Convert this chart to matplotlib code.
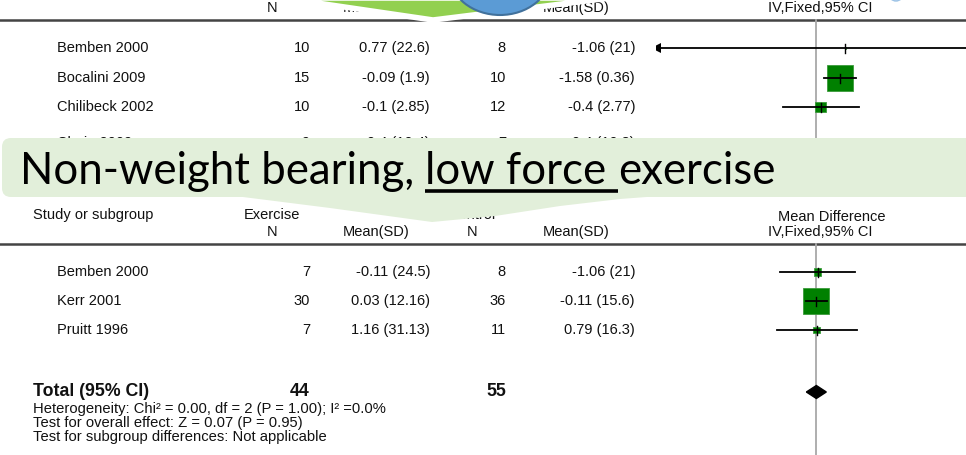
import numpy as np
import matplotlib.pyplot as plt
from matplotlib.patches import Polygon, Ellipse, FancyBboxPatch, Rectangle

# High force subgroup (upper table, partly covered)
hi_study = ["Bemben 2000", "Bocalini 2009", "Chilibeck 2002", "Chuin 2009"]
hi_exp_n = [10, 15, 10, 9]
hi_exp_mean = [0.77, -0.09, -0.1, -0.4]
hi_exp_sd = [22.6, 1.9, 2.85, 10.4]
hi_ctl_n = [8, 10, 12, 7]
hi_ctl_mean = [-1.06, -1.58, -0.4, -0.4]
hi_ctl_sd = [21, 0.36, 2.77, 10.3]

# Non-weight bearing, low force subgroup
lo_study = ["Bemben 2000", "Kerr 2001", "Pruitt 1996"]
lo_exp_n = [7, 30, 7]
lo_exp_mean = [-0.11, 0.03, 1.16]
lo_exp_sd = [24.5, 12.16, 31.13]
lo_ctl_n = [8, 36, 11]
lo_ctl_mean = [-1.06, -0.11, 0.79]
lo_ctl_sd = [21, 15.6, 16.3]

footnotes = [
    "Heterogeneity: Chi\u00b2 = 0.00, df = 2 (P = 1.00); I\u00b2 =0.0%",
    "Test for overall effect: Z = 0.07 (P = 0.95)",
    "Test for subgroup differences: Not applicable",
]
callout_pre = "Non-weight bearing, "
callout_ul = "low force"
callout_post = " exercise"

TXT = dict(family="Liberation Sans", fontsize=10.5, color="#111111")
GREEN = "#008000"
LIGHT = "#E2EFDA"


def mean_diff(em, esd, en, cm, csd, cn):
    em, esd, en = map(np.asarray, (em, esd, en))
    cm, csd, cn = map(np.asarray, (cm, csd, cn))
    md = em - cm
    se = np.sqrt(esd ** 2 / en + csd ** 2 / cn)
    return md, md - 1.96 * se, md + 1.96 * se, 1 / se ** 2


def fmt(m, s):
    return f"{m:g} ({s:g})"


def pixel_axes():
    a = fig.add_axes([0, 0, 1, 1])
    a.set_xlim(0, 966)
    a.set_ylim(455, 0)
    a.axis("off")
    return a


fig = plt.figure(figsize=(9.66, 4.55), dpi=100)
ax = pixel_axes()

# forest panels: x in mean difference units, y in the same row units as the table
plot_left, plot_w = 656, 320


def forest_axes(lim):
    fa = fig.add_axes([plot_left / 966, 0, plot_w / 966, 1])
    fa.set_xlim(-lim, lim)
    fa.set_ylim(455, 0)
    fa.axis("off")
    return fa


def header(y_line, dy=0):
    ax.plot([0, 966], [y_line, y_line], color="#444444", lw=1.8)
    y1, y2 = y_line - 29 + dy, y_line - 12
    ax.text(33, y1, "Study or subgroup", ha="left", va="center", **TXT)
    ax.text(272, y1, "Exercise", ha="center", va="center", **TXT)
    ax.text(277, y2, "N", ha="right", va="center", **TXT)
    ax.text(409, y2, "Mean(SD)", ha="right", va="center", **TXT)
    ax.text(472, y1, "Control", ha="center", va="center", **TXT)
    ax.text(477, y2, "N", ha="right", va="center", **TXT)
    ax.text(609, y2, "Mean(SD)", ha="right", va="center", **TXT)
    ax.text(832, y_line - 27 + dy, "Mean Difference", ha="center", va="center", **TXT)
    ax.text(820, y2, "IV,Fixed,95% CI", ha="center", va="center", **TXT)


def rows(fa, lim, ys, study, en, em, esd, cn, cm, csd):
    md, lo, hi, w = mean_diff(em, esd, en, cm, csd, cn)
    pct = 100 * w / w.sum()
    upx = plot_w / (2 * lim)
    for i, y in enumerate(ys):
        ax.text(57, y, study[i], ha="left", va="center", **TXT)
        ax.text(310, y, str(en[i]), ha="right", va="center", **TXT)
        ax.text(430, y, fmt(em[i], esd[i]), ha="right", va="center", **TXT)
        ax.text(506, y, str(cn[i]), ha="right", va="center", **TXT)
        ax.text(635, y, fmt(cm[i], csd[i]), ha="right", va="center", **TXT)
        # weight box first, CI line and point tick over it
        side = 2.8 * np.sqrt(pct[i])
        fa.add_patch(Rectangle((md[i] - side / 2 / upx, y - side / 2), side / upx, side,
                               facecolor=GREEN, edgecolor="#3a9a3a", lw=0.6, zorder=3))
        x0, x1 = max(lo[i], -lim), min(hi[i], lim)
        fa.plot([x0, x1], [y, y], color="black", lw=1.3, zorder=4)
        if lo[i] < -lim:
            fa.plot(-lim, y, marker="<", ms=7, mew=0, color="black", zorder=4)
        if hi[i] > lim:
            fa.plot(lim, y, marker=">", ms=7, mew=0, color="black", zorder=4)
        fa.plot([md[i], md[i]], [y - 4.5, y + 4.5], color="black", lw=1.0, zorder=5)
    return md, w


# ---- upper table
fa_hi = forest_axes(10)
header(20, dy=2)
fa_hi.plot([0, 0], [20, 150], color="#a8a8a8", lw=1.3, zorder=2)
rows(fa_hi, 10, [48, 78, 107, 143], hi_study, hi_exp_n, hi_exp_mean, hi_exp_sd,
     hi_ctl_n, hi_ctl_mean, hi_ctl_sd)

# ---- lower table
fa_lo = forest_axes(100)
header(244)
fa_lo.plot([0, 0], [244, 455], color="#a8a8a8", lw=1.3, zorder=2)
md, w = rows(fa_lo, 100, [272, 301, 330], lo_study, lo_exp_n, lo_exp_mean, lo_exp_sd,
             lo_ctl_n, lo_ctl_mean, lo_ctl_sd)

# pooled fixed effect
pooled = np.sum(w * md) / w.sum()
pse = 1 / np.sqrt(w.sum())
yt = 392
fa_lo.add_patch(Polygon([(pooled - 1.96 * pse, yt), (pooled, yt - 6.5),
                         (pooled + 1.96 * pse, yt), (pooled, yt + 6.5)],
                        closed=True, facecolor="black", edgecolor="black", zorder=5))
BOLD = dict(TXT, fontsize=12.8, fontweight="bold")
ax.text(33, yt, "Total (95% CI)", ha="left", va="center", **BOLD)
ax.text(310, yt, str(sum(lo_exp_n)), ha="right", va="center", **BOLD)
ax.text(506, yt, str(sum(lo_ctl_n)), ha="right", va="center", **BOLD)
for k, line in enumerate(footnotes):
    ax.text(33, 409 + 14 * k, line, ha="left", va="center", **dict(TXT, fontsize=10.6))

# ---- slide shapes drawn over both tables
ov = pixel_axes()
ov.add_patch(Polygon([(283, -2), (433, 20), (610, -2)], closed=True,
                     facecolor="#92D050", edgecolor="white", lw=4))
ov.add_patch(Ellipse((500, -25), 100, 80, facecolor="#5B9BD5", edgecolor="#41719C", lw=1.5))
ov.add_patch(Ellipse((896, -6), 14, 14, facecolor="#BDD7EE", edgecolor="#9DC3E6", lw=1))

ov.add_patch(FancyBboxPatch((2, 138), 990, 59, boxstyle="round,pad=0,rounding_size=9",
                            facecolor=LIGHT, edgecolor="none"))
ov.add_patch(Polygon([(235, 196), (330, 208), (432, 222), (495, 216), (560, 206),
                      (620, 199), (660, 196)],
                     closed=True, facecolor=LIGHT, edgecolor="none"))

CALL = dict(family="Lato", fontsize=31.5, color="black", va="baseline", ha="left", zorder=12)
x0 = 20
r = fig.canvas.get_renderer()
inv = ov.transData.inverted()
t1 = ov.text(x0, 184, callout_pre, **CALL)
bb = t1.get_window_extent(r)
x1 = inv.transform((bb.x1, 0))[0]
t2 = ov.text(x1, 184, callout_ul + " ", **CALL)
bb = t2.get_window_extent(r)
x2 = inv.transform((bb.x1, 0))[0]
ov.text(x2, 184, callout_post.lstrip(), **CALL)
ov.plot([x1, x2], [190.5, 190.5], color="black", lw=2.6, solid_capstyle="butt", zorder=12)

fig.savefig("out.png", dpi=100)
